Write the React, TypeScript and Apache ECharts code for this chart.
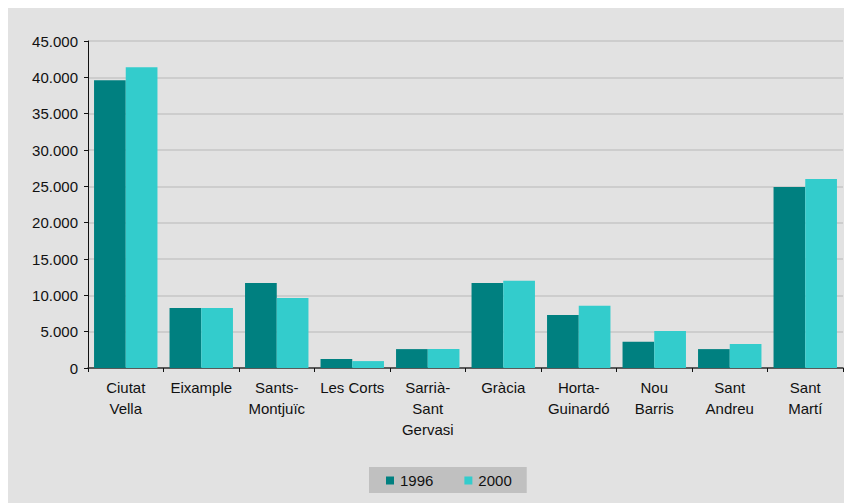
import React, { useEffect, useRef } from "react";
import * as echarts from "echarts";

const categories = [
  "Ciutat\nVella",
  "Eixample",
  "Sants-\nMontjuïc",
  "Les Corts",
  "Sarrià-\nSant\nGervasi",
  "Gràcia",
  "Horta-\nGuinardó",
  "Nou\nBarris",
  "Sant\nAndreu",
  "Sant\nMartí",
];
const values1996 = [39600, 8250, 11700, 1250, 2600, 11700, 7300, 3600, 2600, 24900];
const values2000 = [41400, 8250, 9650, 950, 2600, 12000, 8550, 5100, 3300, 26000];
const seriesNames = ["1996", "2000"];
const yTicks = { min: 0, max: 45000, interval: 5000 };

function fmt(v: number): string {
  return String(v).replace(/\B(?=(\d{3})+(?!\d))/g, ".");
}

export default function App() {
  const ref = useRef<HTMLDivElement>(null);
  useEffect(() => {
    if (!ref.current) return;
    const chart = echarts.init(ref.current, null, { renderer: "svg" });
    const font = "'Liberation Sans', Arial, sans-serif";
    chart.setOption({
      animation: false,
      backgroundColor: "#e2e2e2",
      textStyle: { fontFamily: font },
      grid: { left: 80, right: 9, top: 33, bottom: 135, containLabel: false },
      legend: {
        data: seriesNames,
        left: 361,
        top: 459,
        backgroundColor: "#c0c0c0",
        padding: [6, 15, 5, 17],
        itemWidth: 8,
        itemHeight: 8,
        itemGap: 31,
        icon: "rect",
        textStyle: { fontSize: 15, color: "#111", fontFamily: font, padding: [0, 0, 0, 1] },
      },
      xAxis: {
        type: "category",
        data: categories,
        axisLine: { lineStyle: { color: "#333", width: 1.5 } },
        axisTick: { show: true, length: 4, lineStyle: { color: "#111" } },
        axisLabel: {
          fontSize: 15,
          color: "#111",
          lineHeight: 21,
          margin: 9,
          interval: 0,
          fontFamily: font,
        },
      },
      yAxis: {
        type: "value",
        min: yTicks.min,
        max: yTicks.max,
        interval: yTicks.interval,
        axisLine: { show: true, lineStyle: { color: "#111", width: 1 } },
        axisTick: { show: true, length: 4, lineStyle: { color: "#111" } },
        axisLabel: {
          fontSize: 15,
          color: "#111",
          margin: 10,
          fontFamily: font,
          formatter: (v: number) => fmt(v),
        },
        splitLine: { lineStyle: { color: "#c6c6c6", width: 1.5 } },
      },
      series: [
        {
          name: seriesNames[0],
          type: "bar",
          data: values1996,
          itemStyle: { color: "#008080" },
          barGap: "0%",
          barCategoryGap: "16%",
        },
        {
          name: seriesNames[1],
          type: "bar",
          data: values2000,
          itemStyle: { color: "#33cccc" },
          barGap: "0%",
          barCategoryGap: "16%",
        },
      ],
    });
    return () => chart.dispose();
  }, []);
  return <div ref={ref} style={{ width: 844, height: 495 }} />;
}
